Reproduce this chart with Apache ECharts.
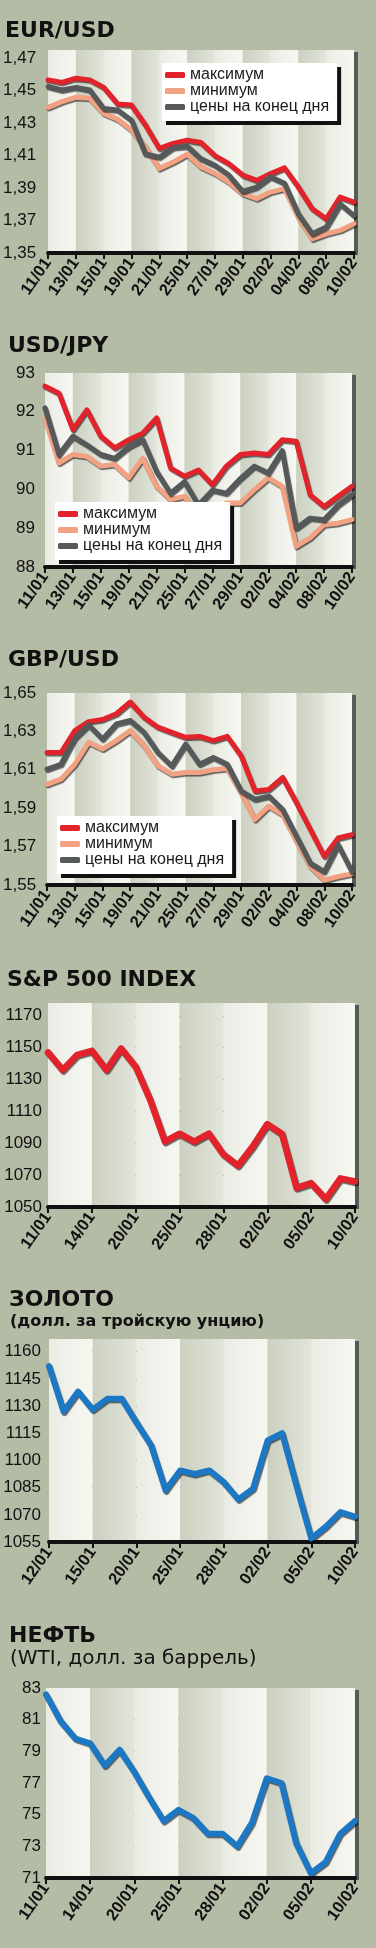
<!DOCTYPE html>
<html>
<head>
<meta charset="utf-8">
<script src="https://cdn.jsdelivr.net/npm/echarts@6/dist/echarts.min.js"></script>
<style>
html, body { margin: 0; padding: 0; background: #b5bca6; }
#chart { width: 376px; height: 1948px; }
</style>
</head>
<body>
<div id="chart"></div>
<script>
// даты торгов
var fxDays = ['11/01','12/01','13/01','14/01','15/01','18/01','19/01','20/01','21/01','22/01','25/01','26/01','27/01','28/01','29/01','01/02','02/02','03/02','04/02','05/02','08/02','09/02','10/02'];
var spxDays = ['11/01','12/01','13/01','14/01','15/01','19/01','20/01','21/01','22/01','25/01','26/01','27/01','28/01','29/01','01/02','02/02','03/02','04/02','05/02','08/02','09/02','10/02'];
var goldDays = ['12/01','13/01','14/01','15/01','18/01','19/01','20/01','21/01','22/01','25/01','26/01','27/01','28/01','29/01','01/02','02/02','03/02','04/02','05/02','08/02','09/02','10/02'];
var oilDays = spxDays;

// EUR/USD
var eurMax = [1.4566,1.455,1.4576,1.4566,1.452,1.4418,1.4411,1.4288,1.4144,1.4175,1.4195,1.418,1.410,1.405,1.398,1.3947,1.3989,1.4024,1.3906,1.3772,1.371,1.3844,1.3813];
var eurMin = [1.4397,1.4432,1.4459,1.4453,1.436,1.4323,1.4257,1.4154,1.402,1.406,1.4108,1.403,1.399,1.3937,1.3865,1.3834,1.3875,1.3896,1.372,1.3587,1.3618,1.3639,1.368];
var eurClose = [1.4525,1.4504,1.452,1.4504,1.439,1.438,1.4318,1.411,1.409,1.415,1.4158,1.408,1.404,1.398,1.388,1.3906,1.397,1.393,1.374,1.3618,1.366,1.3803,1.373];

// USD/JPY
var jpyMax = [92.66,92.48,91.54,92.05,91.37,91.07,91.28,91.45,91.84,90.55,90.34,90.5,90.12,90.6,90.9,90.94,90.9,91.28,91.24,89.86,89.56,89.82,90.08];
var jpyMin = [91.84,90.68,90.9,90.85,90.6,90.64,90.3,90.8,90.08,89.74,89.82,89.26,89.09,89.65,89.65,89.99,90.3,90.08,88.53,88.75,89.09,89.13,89.22];
var jpyClose = [92.1,90.9,91.37,91.15,90.9,90.8,91.1,91.28,90.46,89.9,90.2,89.6,89.98,89.9,90.28,90.6,90.42,91.0,89.0,89.26,89.22,89.6,89.86];

// GBP/USD
var gbpMax = [1.619,1.619,1.6304,1.6351,1.6362,1.6392,1.6453,1.6374,1.6322,1.6295,1.6269,1.6274,1.6252,1.6274,1.6173,1.599,1.5998,1.606,1.5928,1.5788,1.5649,1.5745,1.5762];
var gbpMin = [1.6024,1.6051,1.6129,1.6243,1.6208,1.6252,1.6304,1.6226,1.612,1.6077,1.6086,1.6086,1.61,1.6107,1.5981,1.5841,1.5911,1.5867,1.5727,1.5596,1.5526,1.5544,1.5558];
var gbpClose = [1.6103,1.6129,1.6264,1.6334,1.626,1.6339,1.6357,1.6295,1.619,1.612,1.6234,1.6129,1.6164,1.6129,1.599,1.5946,1.5963,1.5893,1.5753,1.5614,1.557,1.571,1.557];

// S&P 500, золото, нефть
var spx = [1147,1136,1145.5,1148,1136,1149.5,1138,1117,1091,1096,1091,1096,1083,1076,1088,1102,1096,1062,1065,1055,1068,1066];
var gold = [1152,1127,1138,1128,1134,1134,1121,1108.5,1083.5,1094.5,1092.5,1094.5,1088,1078.5,1084.5,1111,1115,1085.5,1057,1063.5,1071.5,1069];
var oil = [82.6,80.9,79.8,79.5,78.1,79.1,77.7,76.1,74.6,75.3,74.8,73.8,73.8,73.0,74.5,77.3,77.0,73.2,71.3,72.0,73.8,74.6];

var legendNames = ['максимум', 'минимум', 'цены на конец дня'];

var RED = '#e3232b', SALMON = '#f2a182', GRAY = '#55595a', BLUE = '#1c78c4';
var narrow = "'Liberation Sans Narrow', 'Liberation Sans', sans-serif";

var stripeDark = new echarts.graphic.LinearGradient(0, 0, 1, 0, [
    {offset: 0, color: '#cbd0c0'}, {offset: 1, color: '#e2e5da'}
]);
var stripeLight = new echarts.graphic.LinearGradient(0, 0, 1, 0, [
    {offset: 0, color: '#eaece4'}, {offset: 1, color: '#f7f7f2'}
]);

// панели: положение сетки и шкала
var panels = [
    {days: fxDays, step: 1, grid: {left: 48, top: 50, width: 306, height: 203}, y: {min: 1.35, max: 1.475, interval: 0.02, dec: 2}, lblMargin: 12},
    {days: fxDays, step: 1, grid: {left: 45, top: 373, width: 307, height: 194}, y: {min: 88, max: 93, interval: 1, dec: 0}, lblMargin: 10},
    {days: fxDays, step: 1, grid: {left: 46, top: 693, width: 306, height: 192}, y: {min: 1.55, max: 1.65, interval: 0.02, dec: 2}, lblMargin: 11},
    {days: spxDays, step: 2, grid: {left: 48, top: 1003, width: 307, height: 204}, y: {min: 1050, max: 1178, interval: 20, dec: 0}, lblMargin: 6},
    {days: goldDays, step: 2, grid: {left: 49, top: 1339, width: 306, height: 203}, y: {min: 1055, max: 1167, interval: 15, dec: 0}, lblMargin: 8},
    {days: oilDays, step: 2, grid: {left: 46, top: 1688, width: 309, height: 190}, y: {min: 71, max: 83, interval: 2, dec: 0}, lblMargin: 5}
];

var grids = [], xAxes = [], yAxes = [];
panels.forEach(function (p, i) {
    grids.push(Object.assign({
        show: true, backgroundColor: '#e6e8df', borderWidth: 0,
        shadowColor: '#575b57', shadowOffsetX: 4, shadowOffsetY: 2, shadowBlur: 0
    }, p.grid));
    xAxes.push({
        type: 'category', gridIndex: i, data: p.days, boundaryGap: false,
        axisLine: {lineStyle: {color: '#111', width: 4}},
        axisTick: {show: true, interval: p.step, length: 6, lineStyle: {color: '#111', width: 2}},
        axisLabel: {
            interval: p.step, rotate: 55, margin: 7, color: '#111',
            fontFamily: narrow, fontWeight: 'bold', fontSize: 16.5
        },
        splitArea: {show: true, interval: p.step, areaStyle: {color: [stripeLight, stripeDark]}},
        splitLine: {show: false}
    });
    var dec = p.y.dec;
    var steps = (p.y.max - p.y.min) / p.y.interval;
    yAxes.push({
        type: 'value', gridIndex: i, min: p.y.min, max: p.y.max, interval: p.y.interval,
        axisLine: {show: false}, axisTick: {show: false},
        axisLabel: {
            margin: p.lblMargin, color: '#111', fontFamily: narrow, fontSize: 17,
            showMaxLabel: Math.abs(steps - Math.round(steps)) < 1e-6,
            formatter: function (v) { return v.toFixed(dec).replace('.', ','); }
        },
        splitLine: {show: true, showMinLine: false, showMaxLine: false, lineStyle: {color: '#222', width: 1, type: [8, 6]}}
    });
});

function line(name, data, color, width, gi) {
    return {
        type: 'line', name: name, data: data, xAxisIndex: gi, yAxisIndex: gi,
        color: color, symbol: 'none', silent: true, z: 3,
        lineStyle: {
            color: color, width: width, cap: 'round', join: 'round',
            shadowColor: 'rgba(0,0,0,0.6)', shadowBlur: 1, shadowOffsetX: 1, shadowOffsetY: 1.5
        }
    };
}

var series = [
    line('минимум', eurMin, SALMON, 5, 0), line('максимум', eurMax, RED, 5, 0), line('цены на конец дня', eurClose, GRAY, 5, 0),
    line('минимум', jpyMin, SALMON, 5, 1), line('максимум', jpyMax, RED, 5, 1), line('цены на конец дня', jpyClose, GRAY, 5, 1),
    line('минимум', gbpMin, SALMON, 5, 2), line('максимум', gbpMax, RED, 5, 2), line('цены на конец дня', gbpClose, GRAY, 5, 2),
    line('S&P 500', spx, RED, 6.5, 3),
    line('золото', gold, BLUE, 6, 4),
    line('нефть', oil, BLUE, 6, 5)
];

function legendAt(left, top) {
    return {
        left: left, top: top, orient: 'vertical', data: legendNames, selectedMode: false,
        icon: 'roundRect', itemWidth: 20, itemHeight: 6, itemGap: 0, padding: [4, 8, 6, 3],
        backgroundColor: '#fff', shadowColor: '#111', shadowOffsetX: 4, shadowOffsetY: 4, shadowBlur: 0,
        textStyle: {fontSize: 16, lineHeight: 16, color: '#1a1a1a', fontFamily: "'Liberation Sans', sans-serif"}
    };
}

var titleStyle = {fontFamily: "'DejaVu Sans', sans-serif", fontWeight: 'bold', fontSize: 22, color: '#111'};
var titles = [
    {text: 'EUR/USD', left: 5, top: 20},
    {text: 'USD/JPY', left: 8, top: 335},
    {text: 'GBP/USD', left: 8, top: 649},
    {text: 'S&P 500 INDEX', left: 7, top: 969},
    {text: 'ЗОЛОТО', left: 9, top: 1289},
    {text: 'НЕФТЬ', left: 9, top: 1625}
].map(function (t) { t.padding = 0; t.textStyle = titleStyle; return t; });
titles.push({text: '(долл. за тройскую унцию)', left: 10, top: 1314, padding: 0,
    textStyle: {fontFamily: "'DejaVu Sans', sans-serif", fontWeight: 'bold', fontSize: 16, color: '#111'}});
titles.push({text: '(WTI, долл. за баррель)', left: 10, top: 1649, padding: 0,
    textStyle: {fontFamily: "'DejaVu Sans', sans-serif", fontWeight: 'normal', fontSize: 20, color: '#111'}});

var chart = echarts.init(document.getElementById('chart'));
chart.setOption({
    backgroundColor: '#b5bca6',
    animation: false,
    title: titles,
    legend: [legendAt(162, 63), legendAt(55, 502), legendAt(57, 816)],
    grid: grids,
    xAxis: xAxes,
    yAxis: yAxes,
    series: series
});
</script>
</body>
</html>
